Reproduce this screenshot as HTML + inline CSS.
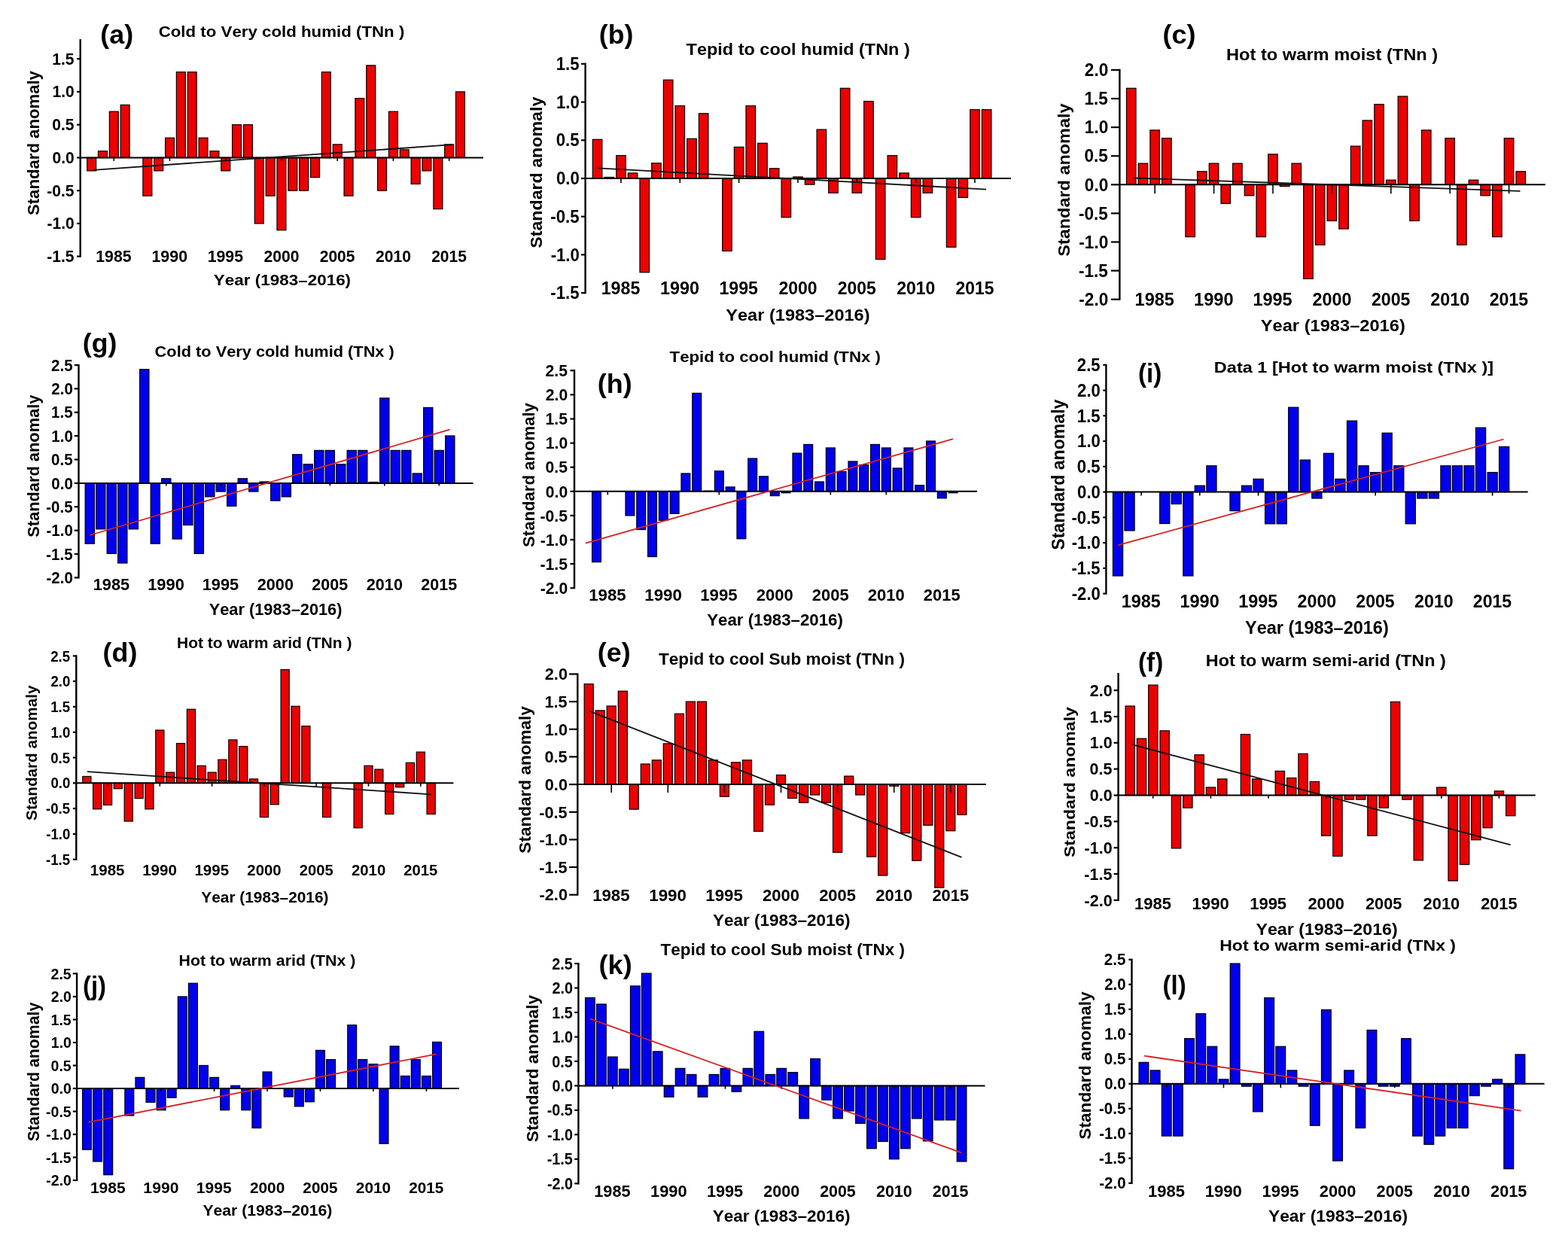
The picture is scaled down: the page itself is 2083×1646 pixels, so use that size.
<!DOCTYPE html>
<html><head><meta charset="utf-8"><title>Standard anomaly charts</title>
<style>html,body{margin:0;padding:0;background:#fff;width:2083px;height:1646px;overflow:hidden}svg{display:block}text{font-family:'Liberation Sans', Arial, Helvetica, sans-serif;font-weight:bold;font-kerning:none}</style></head>
<body>
<svg xmlns="http://www.w3.org/2000/svg" width="2083" height="1646" viewBox="0 0 2083 1646" font-family="'Liberation Sans', Arial, Helvetica, sans-serif" fill="#000">
<rect width="100%" height="100%" fill="#fff"/>
<g id="c_a">
<g fill="#ec0000" stroke="#1a0000" stroke-width="1.3"><rect x="115.7" y="209.4" width="11.9" height="17.5"/><rect x="130.5" y="200.7" width="11.9" height="8.8"/><rect x="145.4" y="148.2" width="11.9" height="61.2"/><rect x="160.2" y="139.4" width="11.9" height="70.0"/><rect x="189.9" y="209.4" width="11.9" height="50.8"/><rect x="204.7" y="209.4" width="11.9" height="17.5"/><rect x="219.6" y="183.2" width="11.9" height="26.2"/><rect x="234.4" y="95.7" width="11.9" height="113.8"/><rect x="249.3" y="95.7" width="11.9" height="113.8"/><rect x="264.1" y="183.2" width="11.9" height="26.2"/><rect x="279.0" y="200.7" width="11.9" height="8.8"/><rect x="293.8" y="209.4" width="11.9" height="17.5"/><rect x="308.6" y="165.7" width="11.9" height="43.8"/><rect x="323.5" y="165.7" width="11.9" height="43.8"/><rect x="338.3" y="209.4" width="11.9" height="87.5"/><rect x="353.2" y="209.4" width="11.9" height="50.8"/><rect x="368.0" y="209.4" width="11.9" height="96.3"/><rect x="382.9" y="209.4" width="11.9" height="43.8"/><rect x="397.7" y="209.4" width="11.9" height="43.8"/><rect x="412.6" y="209.4" width="11.9" height="26.2"/><rect x="427.4" y="95.7" width="11.9" height="113.8"/><rect x="442.3" y="191.9" width="11.9" height="17.5"/><rect x="457.1" y="209.4" width="11.9" height="50.8"/><rect x="471.9" y="130.7" width="11.9" height="78.8"/><rect x="486.8" y="86.9" width="11.9" height="122.5"/><rect x="501.6" y="209.4" width="11.9" height="43.8"/><rect x="516.5" y="148.2" width="11.9" height="61.2"/><rect x="531.3" y="198.9" width="11.9" height="10.5"/><rect x="546.2" y="209.4" width="11.9" height="35.0"/><rect x="561.0" y="209.4" width="11.9" height="17.5"/><rect x="575.9" y="209.4" width="11.9" height="68.2"/><rect x="590.7" y="191.9" width="11.9" height="17.5"/><rect x="605.5" y="121.9" width="11.9" height="87.5"/></g>
<g stroke="#000" fill="none"><path d="M106.7 52.0V341.8" stroke-width="2.4"/><path d="M102.1 78.2H106.7" stroke-width="2.2"/><path d="M102.1 121.9H106.7" stroke-width="2.2"/><path d="M102.1 165.7H106.7" stroke-width="2.2"/><path d="M102.1 209.4H106.7" stroke-width="2.2"/><path d="M102.1 253.2H106.7" stroke-width="2.2"/><path d="M102.1 296.9H106.7" stroke-width="2.2"/><path d="M102.1 340.6H106.7" stroke-width="2.2"/><path d="M106.7 209.4H642.0" stroke-width="2.0"/><path d="M151.3 209.4V213.9" stroke-width="1.6"/><path d="M225.5 209.4V213.9" stroke-width="1.6"/><path d="M299.7 209.4V213.9" stroke-width="1.6"/><path d="M374.0 209.4V213.9" stroke-width="1.6"/><path d="M448.2 209.4V213.9" stroke-width="1.6"/><path d="M522.4 209.4V213.9" stroke-width="1.6"/><path d="M596.6 209.4V213.9" stroke-width="1.6"/></g>
<path d="M124.3 225.8L600.5 192.2" stroke="#111" stroke-width="1.8" fill="none"/>
<g><text x="69.23" y="85.58" font-size="21.30" textLength="29.36" lengthAdjust="spacingAndGlyphs">1.5</text><text x="69.51" y="129.33" font-size="21.30" textLength="29.36" lengthAdjust="spacingAndGlyphs">1.0</text><text x="69.23" y="173.08" font-size="21.30" textLength="29.36" lengthAdjust="spacingAndGlyphs">0.5</text><text x="69.51" y="216.83" font-size="21.30" textLength="29.36" lengthAdjust="spacingAndGlyphs">0.0</text><text x="62.20" y="260.58" font-size="21.30" textLength="36.39" lengthAdjust="spacingAndGlyphs">-0.5</text><text x="62.48" y="304.33" font-size="21.30" textLength="36.39" lengthAdjust="spacingAndGlyphs">-1.0</text><text x="62.20" y="348.08" font-size="21.30" textLength="36.39" lengthAdjust="spacingAndGlyphs">-1.5</text></g>
<g><text x="127.22" y="348.30" font-size="21.30" textLength="47.38" lengthAdjust="spacingAndGlyphs">1985</text><text x="201.44" y="348.30" font-size="21.30" textLength="47.68" lengthAdjust="spacingAndGlyphs">1990</text><text x="275.67" y="348.30" font-size="21.30" textLength="47.38" lengthAdjust="spacingAndGlyphs">1995</text><text x="350.51" y="348.30" font-size="21.30" textLength="47.05" lengthAdjust="spacingAndGlyphs">2000</text><text x="424.74" y="348.30" font-size="21.30" textLength="46.76" lengthAdjust="spacingAndGlyphs">2005</text><text x="498.96" y="348.30" font-size="21.30" textLength="47.05" lengthAdjust="spacingAndGlyphs">2010</text><text x="573.19" y="348.30" font-size="21.30" textLength="46.76" lengthAdjust="spacingAndGlyphs">2015</text></g>
<text x="210.69" y="49.20" font-size="21.10" textLength="326.62" lengthAdjust="spacingAndGlyphs">Cold to Very cold humid (TNn )</text>
<text x="133.31" y="57.60" font-size="34.50" textLength="43.88" lengthAdjust="spacingAndGlyphs">(a)</text>
<text transform="translate(51.90 285.40) rotate(-90)" x="-0.64" y="0" font-size="22.03" textLength="191.96" lengthAdjust="spacingAndGlyphs">Standard anomaly</text>
<text x="283.82" y="379.30" font-size="21.00" textLength="182.30" lengthAdjust="spacingAndGlyphs">Year (1983–2016)</text>
</g>
<g id="c_b">
<g fill="#ec0000" stroke="#1a0000" stroke-width="1.3"><rect x="787.3" y="185.3" width="12.5" height="51.7"/><rect x="803.0" y="235.5" width="12.5" height="1.5"/><rect x="818.7" y="206.6" width="12.5" height="30.4"/><rect x="834.3" y="229.9" width="12.5" height="7.1"/><rect x="850.0" y="237.0" width="12.5" height="124.8"/><rect x="865.7" y="216.7" width="12.5" height="20.3"/><rect x="881.4" y="106.2" width="12.5" height="130.8"/><rect x="897.0" y="140.6" width="12.5" height="96.4"/><rect x="912.7" y="184.3" width="12.5" height="52.7"/><rect x="928.4" y="150.8" width="12.5" height="86.2"/><rect x="959.7" y="237.0" width="12.5" height="96.4"/><rect x="975.4" y="195.4" width="12.5" height="41.6"/><rect x="991.0" y="140.6" width="12.5" height="96.4"/><rect x="1006.7" y="190.3" width="12.5" height="46.7"/><rect x="1022.4" y="223.8" width="12.5" height="13.2"/><rect x="1038.1" y="237.0" width="12.5" height="51.7"/><rect x="1053.7" y="235.0" width="12.5" height="2.0"/><rect x="1069.4" y="237.0" width="12.5" height="8.1"/><rect x="1085.1" y="172.1" width="12.5" height="64.9"/><rect x="1100.7" y="237.0" width="12.5" height="19.3"/><rect x="1116.4" y="117.3" width="12.5" height="119.7"/><rect x="1132.1" y="237.0" width="12.5" height="19.3"/><rect x="1147.7" y="134.6" width="12.5" height="102.4"/><rect x="1163.4" y="237.0" width="12.5" height="107.5"/><rect x="1179.1" y="206.6" width="12.5" height="30.4"/><rect x="1194.8" y="229.9" width="12.5" height="7.1"/><rect x="1210.4" y="237.0" width="12.5" height="51.7"/><rect x="1226.1" y="237.0" width="12.5" height="19.3"/><rect x="1257.4" y="237.0" width="12.5" height="91.3"/><rect x="1273.1" y="237.0" width="12.5" height="25.4"/><rect x="1288.8" y="145.7" width="12.5" height="91.3"/><rect x="1304.4" y="145.7" width="12.5" height="91.3"/></g>
<g stroke="#000" fill="none"><path d="M777.6 83.8V390.2" stroke-width="2.4"/><path d="M772.0 84.8H777.6" stroke-width="2.2"/><path d="M772.0 135.6H777.6" stroke-width="2.2"/><path d="M772.0 186.3H777.6" stroke-width="2.2"/><path d="M772.0 237.0H777.6" stroke-width="2.2"/><path d="M772.0 287.7H777.6" stroke-width="2.2"/><path d="M772.0 338.4H777.6" stroke-width="2.2"/><path d="M772.0 389.1H777.6" stroke-width="2.2"/><path d="M777.6 237.0H1343.0" stroke-width="2.0"/><path d="M824.9 237.0V243.0" stroke-width="1.6"/><path d="M903.3 237.0V243.0" stroke-width="1.6"/><path d="M981.6 237.0V243.0" stroke-width="1.6"/><path d="M1060.0 237.0V243.0" stroke-width="1.6"/><path d="M1138.3 237.0V243.0" stroke-width="1.6"/><path d="M1216.7 237.0V243.0" stroke-width="1.6"/><path d="M1295.0 237.0V243.0" stroke-width="1.6"/></g>
<path d="M794.5 223.3L1310.0 251.6" stroke="#111" stroke-width="1.8" fill="none"/>
<g><text x="738.74" y="92.95" font-size="23.20" textLength="30.88" lengthAdjust="spacingAndGlyphs">1.5</text><text x="739.03" y="143.66" font-size="23.20" textLength="30.88" lengthAdjust="spacingAndGlyphs">1.0</text><text x="738.74" y="194.38" font-size="23.20" textLength="30.88" lengthAdjust="spacingAndGlyphs">0.5</text><text x="739.03" y="245.10" font-size="23.20" textLength="30.88" lengthAdjust="spacingAndGlyphs">0.0</text><text x="731.34" y="295.81" font-size="23.20" textLength="38.28" lengthAdjust="spacingAndGlyphs">-0.5</text><text x="731.63" y="346.53" font-size="23.20" textLength="38.28" lengthAdjust="spacingAndGlyphs">-1.0</text><text x="731.34" y="397.25" font-size="23.20" textLength="38.28" lengthAdjust="spacingAndGlyphs">-1.5</text></g>
<g><text x="798.73" y="391.40" font-size="23.20" textLength="51.61" lengthAdjust="spacingAndGlyphs">1985</text><text x="877.07" y="391.40" font-size="23.20" textLength="51.93" lengthAdjust="spacingAndGlyphs">1990</text><text x="955.43" y="391.40" font-size="23.20" textLength="51.61" lengthAdjust="spacingAndGlyphs">1995</text><text x="1034.44" y="391.40" font-size="23.20" textLength="51.25" lengthAdjust="spacingAndGlyphs">2000</text><text x="1112.79" y="391.40" font-size="23.20" textLength="50.93" lengthAdjust="spacingAndGlyphs">2005</text><text x="1191.14" y="391.40" font-size="23.20" textLength="51.25" lengthAdjust="spacingAndGlyphs">2010</text><text x="1269.49" y="391.40" font-size="23.20" textLength="50.93" lengthAdjust="spacingAndGlyphs">2015</text></g>
<text x="911.64" y="72.70" font-size="21.50" textLength="297.13" lengthAdjust="spacingAndGlyphs">Tepid to cool humid (TNn )</text>
<text x="795.82" y="58.10" font-size="35.30" textLength="45.55" lengthAdjust="spacingAndGlyphs">(b)</text>
<text transform="translate(720.30 329.10) rotate(-90)" x="-0.67" y="0" font-size="22.60" textLength="201.09" lengthAdjust="spacingAndGlyphs">Standard anomaly</text>
<text x="964.30" y="425.70" font-size="22.20" textLength="191.28" lengthAdjust="spacingAndGlyphs">Year (1983–2016)</text>
</g>
<g id="c_c">
<g fill="#ec0000" stroke="#1a0000" stroke-width="1.3"><rect x="1496.5" y="117.3" width="12.5" height="128.0"/><rect x="1512.2" y="217.1" width="12.5" height="28.2"/><rect x="1527.9" y="172.9" width="12.5" height="72.4"/><rect x="1543.6" y="183.6" width="12.5" height="61.7"/><rect x="1574.9" y="245.3" width="12.5" height="69.3"/><rect x="1590.6" y="227.8" width="12.5" height="17.5"/><rect x="1606.3" y="217.1" width="12.5" height="28.2"/><rect x="1622.0" y="245.3" width="12.5" height="25.1"/><rect x="1637.6" y="217.1" width="12.5" height="28.2"/><rect x="1653.3" y="245.3" width="12.5" height="14.5"/><rect x="1669.0" y="245.3" width="12.5" height="69.3"/><rect x="1684.7" y="204.9" width="12.5" height="40.4"/><rect x="1700.4" y="245.3" width="12.5" height="2.3"/><rect x="1716.0" y="217.1" width="12.5" height="28.2"/><rect x="1731.7" y="245.3" width="12.5" height="125.0"/><rect x="1747.4" y="245.3" width="12.5" height="80.0"/><rect x="1763.1" y="245.3" width="12.5" height="48.0"/><rect x="1778.8" y="245.3" width="12.5" height="58.7"/><rect x="1794.4" y="194.2" width="12.5" height="51.1"/><rect x="1810.1" y="160.0" width="12.5" height="85.3"/><rect x="1825.8" y="138.6" width="12.5" height="106.7"/><rect x="1841.5" y="239.2" width="12.5" height="6.1"/><rect x="1857.2" y="128.0" width="12.5" height="117.3"/><rect x="1872.8" y="245.3" width="12.5" height="48.0"/><rect x="1888.5" y="172.9" width="12.5" height="72.4"/><rect x="1919.9" y="183.6" width="12.5" height="61.7"/><rect x="1935.6" y="245.3" width="12.5" height="80.0"/><rect x="1951.2" y="239.2" width="12.5" height="6.1"/><rect x="1966.9" y="245.3" width="12.5" height="14.5"/><rect x="1982.6" y="245.3" width="12.5" height="69.3"/><rect x="1998.3" y="183.6" width="12.5" height="61.7"/><rect x="2014.0" y="227.8" width="12.5" height="17.5"/></g>
<g stroke="#000" fill="none"><path d="M1487.4 91.8V398.8" stroke-width="2.4"/><path d="M1475.9 92.9H1487.4" stroke-width="2.2"/><path d="M1475.9 131.0H1487.4" stroke-width="2.2"/><path d="M1475.9 169.1H1487.4" stroke-width="2.2"/><path d="M1475.9 207.2H1487.4" stroke-width="2.2"/><path d="M1475.9 245.3H1487.4" stroke-width="2.2"/><path d="M1475.9 283.4H1487.4" stroke-width="2.2"/><path d="M1475.9 321.5H1487.4" stroke-width="2.2"/><path d="M1475.9 359.6H1487.4" stroke-width="2.2"/><path d="M1475.9 397.7H1487.4" stroke-width="2.2"/><path d="M1487.4 245.3H2053.0" stroke-width="2.0"/><path d="M1534.2 245.3V257.3" stroke-width="1.6"/><path d="M1612.6 245.3V257.3" stroke-width="1.6"/><path d="M1691.0 245.3V257.3" stroke-width="1.6"/><path d="M1769.4 245.3V257.3" stroke-width="1.6"/><path d="M1847.8 245.3V257.3" stroke-width="1.6"/><path d="M1926.2 245.3V257.3" stroke-width="1.6"/><path d="M2004.6 245.3V257.3" stroke-width="1.6"/></g>
<path d="M1504.9 236.5L2019.5 253.8" stroke="#111" stroke-width="1.8" fill="none"/>
<g><text x="1440.84" y="101.10" font-size="23.50" textLength="31.39" lengthAdjust="spacingAndGlyphs">2.0</text><text x="1440.54" y="139.20" font-size="23.50" textLength="31.39" lengthAdjust="spacingAndGlyphs">1.5</text><text x="1440.84" y="177.30" font-size="23.50" textLength="31.39" lengthAdjust="spacingAndGlyphs">1.0</text><text x="1440.54" y="215.40" font-size="23.50" textLength="31.39" lengthAdjust="spacingAndGlyphs">0.5</text><text x="1440.84" y="253.50" font-size="23.50" textLength="31.39" lengthAdjust="spacingAndGlyphs">0.0</text><text x="1433.02" y="291.60" font-size="23.50" textLength="38.91" lengthAdjust="spacingAndGlyphs">-0.5</text><text x="1433.32" y="329.70" font-size="23.50" textLength="38.91" lengthAdjust="spacingAndGlyphs">-1.0</text><text x="1433.02" y="367.80" font-size="23.50" textLength="38.91" lengthAdjust="spacingAndGlyphs">-1.5</text><text x="1433.32" y="405.90" font-size="23.50" textLength="38.91" lengthAdjust="spacingAndGlyphs">-2.0</text></g>
<g><text x="1507.61" y="405.90" font-size="23.50" textLength="52.28" lengthAdjust="spacingAndGlyphs">1985</text><text x="1586.00" y="405.90" font-size="23.50" textLength="52.60" lengthAdjust="spacingAndGlyphs">1990</text><text x="1664.41" y="405.90" font-size="23.50" textLength="52.28" lengthAdjust="spacingAndGlyphs">1995</text><text x="1743.48" y="405.90" font-size="23.50" textLength="51.91" lengthAdjust="spacingAndGlyphs">2000</text><text x="1821.88" y="405.90" font-size="23.50" textLength="51.59" lengthAdjust="spacingAndGlyphs">2005</text><text x="1900.28" y="405.90" font-size="23.50" textLength="51.91" lengthAdjust="spacingAndGlyphs">2010</text><text x="1978.68" y="405.90" font-size="23.50" textLength="51.59" lengthAdjust="spacingAndGlyphs">2015</text></g>
<text x="1628.92" y="79.80" font-size="21.50" textLength="281.36" lengthAdjust="spacingAndGlyphs">Hot to warm moist (TNn )</text>
<text x="1544.50" y="58.10" font-size="35.70" textLength="44.09" lengthAdjust="spacingAndGlyphs">(c)</text>
<text transform="translate(1420.60 340.00) rotate(-90)" x="-0.68" y="0" font-size="22.88" textLength="203.20" lengthAdjust="spacingAndGlyphs">Standard anomaly</text>
<text x="1674.80" y="440.20" font-size="22.20" textLength="191.98" lengthAdjust="spacingAndGlyphs">Year (1983–2016)</text>
</g>
<g id="c_g">
<g fill="#0000ee" stroke="#000022" stroke-width="1.3"><rect x="113.2" y="641.9" width="12.2" height="80.3"/><rect x="127.7" y="641.9" width="12.2" height="60.9"/><rect x="142.2" y="641.9" width="12.2" height="93.5"/><rect x="156.7" y="641.9" width="12.2" height="106.1"/><rect x="171.2" y="641.9" width="12.2" height="60.9"/><rect x="185.7" y="490.7" width="12.2" height="151.2"/><rect x="200.2" y="641.9" width="12.2" height="80.3"/><rect x="214.7" y="635.8" width="12.2" height="6.1"/><rect x="229.2" y="641.9" width="12.2" height="74.1"/><rect x="243.7" y="641.9" width="12.2" height="55.6"/><rect x="258.2" y="641.9" width="12.2" height="93.5"/><rect x="272.7" y="641.9" width="12.2" height="18.0"/><rect x="287.2" y="641.9" width="12.2" height="11.1"/><rect x="301.7" y="641.9" width="12.2" height="30.4"/><rect x="316.2" y="635.8" width="12.2" height="6.1"/><rect x="330.7" y="641.9" width="12.2" height="11.1"/><rect x="345.2" y="640.0" width="12.2" height="1.9"/><rect x="359.7" y="641.9" width="12.2" height="23.2"/><rect x="374.2" y="641.9" width="12.2" height="18.0"/><rect x="388.7" y="603.8" width="12.2" height="38.1"/><rect x="403.2" y="616.8" width="12.2" height="25.1"/><rect x="417.7" y="598.4" width="12.2" height="43.5"/><rect x="432.2" y="598.4" width="12.2" height="43.5"/><rect x="446.7" y="616.8" width="12.2" height="25.1"/><rect x="461.2" y="598.4" width="12.2" height="43.5"/><rect x="475.7" y="598.4" width="12.2" height="43.5"/><rect x="490.2" y="640.6" width="12.2" height="1.3"/><rect x="504.7" y="528.9" width="12.2" height="113.0"/><rect x="519.2" y="598.4" width="12.2" height="43.5"/><rect x="533.7" y="598.4" width="12.2" height="43.5"/><rect x="548.2" y="629.0" width="12.2" height="12.9"/><rect x="562.7" y="541.5" width="12.2" height="100.4"/><rect x="577.2" y="598.4" width="12.2" height="43.5"/><rect x="591.7" y="579.0" width="12.2" height="62.9"/></g>
<g stroke="#000" fill="none"><path d="M104.5 483.9V768.5" stroke-width="2.4"/><path d="M98.8 485.0H104.5" stroke-width="2.2"/><path d="M98.8 516.4H104.5" stroke-width="2.2"/><path d="M98.8 547.8H104.5" stroke-width="2.2"/><path d="M98.8 579.1H104.5" stroke-width="2.2"/><path d="M98.8 610.5H104.5" stroke-width="2.2"/><path d="M98.8 641.9H104.5" stroke-width="2.2"/><path d="M98.8 673.3H104.5" stroke-width="2.2"/><path d="M98.8 704.7H104.5" stroke-width="2.2"/><path d="M98.8 736.0H104.5" stroke-width="2.2"/><path d="M98.8 767.4H104.5" stroke-width="2.2"/><path d="M104.5 641.9H628.5" stroke-width="2.0"/><path d="M148.3 641.9V645.4" stroke-width="1.6"/><path d="M220.8 641.9V645.4" stroke-width="1.6"/><path d="M293.3 641.9V645.4" stroke-width="1.6"/><path d="M365.8 641.9V645.4" stroke-width="1.6"/><path d="M438.3 641.9V645.4" stroke-width="1.6"/><path d="M510.8 641.9V645.4" stroke-width="1.6"/><path d="M583.3 641.9V645.4" stroke-width="1.6"/></g>
<path d="M119.2 711.0L597.5 570.6" stroke="#d62020" stroke-width="1.8" fill="none"/>
<g><text x="68.06" y="492.62" font-size="21.80" textLength="28.51" lengthAdjust="spacingAndGlyphs">2.5</text><text x="68.33" y="524.00" font-size="21.80" textLength="28.51" lengthAdjust="spacingAndGlyphs">2.0</text><text x="68.06" y="555.37" font-size="21.80" textLength="28.51" lengthAdjust="spacingAndGlyphs">1.5</text><text x="68.33" y="586.75" font-size="21.80" textLength="28.51" lengthAdjust="spacingAndGlyphs">1.0</text><text x="68.06" y="618.13" font-size="21.80" textLength="28.51" lengthAdjust="spacingAndGlyphs">0.5</text><text x="68.33" y="649.51" font-size="21.80" textLength="28.51" lengthAdjust="spacingAndGlyphs">0.0</text><text x="61.23" y="680.89" font-size="21.80" textLength="35.34" lengthAdjust="spacingAndGlyphs">-0.5</text><text x="61.50" y="712.26" font-size="21.80" textLength="35.34" lengthAdjust="spacingAndGlyphs">-1.0</text><text x="61.23" y="743.64" font-size="21.80" textLength="35.34" lengthAdjust="spacingAndGlyphs">-1.5</text><text x="61.50" y="775.02" font-size="21.80" textLength="35.34" lengthAdjust="spacingAndGlyphs">-2.0</text></g>
<g><text x="123.67" y="784.30" font-size="21.80" textLength="48.50" lengthAdjust="spacingAndGlyphs">1985</text><text x="196.16" y="784.30" font-size="21.80" textLength="48.80" lengthAdjust="spacingAndGlyphs">1990</text><text x="268.67" y="784.30" font-size="21.80" textLength="48.50" lengthAdjust="spacingAndGlyphs">1995</text><text x="341.79" y="784.30" font-size="21.80" textLength="48.15" lengthAdjust="spacingAndGlyphs">2000</text><text x="414.30" y="784.30" font-size="21.80" textLength="47.86" lengthAdjust="spacingAndGlyphs">2005</text><text x="486.79" y="784.30" font-size="21.80" textLength="48.15" lengthAdjust="spacingAndGlyphs">2010</text><text x="559.30" y="784.30" font-size="21.80" textLength="47.86" lengthAdjust="spacingAndGlyphs">2015</text></g>
<text x="205.61" y="473.70" font-size="20.50" textLength="318.18" lengthAdjust="spacingAndGlyphs">Cold to Very cold humid (TNx )</text>
<text x="109.82" y="468.30" font-size="35.30" textLength="45.55" lengthAdjust="spacingAndGlyphs">(g)</text>
<text transform="translate(51.90 713.20) rotate(-90)" x="-0.63" y="0" font-size="22.03" textLength="189.25" lengthAdjust="spacingAndGlyphs">Standard anomaly</text>
<text x="277.73" y="816.50" font-size="21.50" textLength="176.76" lengthAdjust="spacingAndGlyphs">Year (1983–2016)</text>
</g>
<g id="c_h">
<g fill="#0000ee" stroke="#000022" stroke-width="1.3"><rect x="786.6" y="652.8" width="11.8" height="93.8"/><rect x="831.0" y="652.8" width="11.8" height="32.1"/><rect x="845.8" y="652.8" width="11.8" height="50.7"/><rect x="860.6" y="652.8" width="11.8" height="86.7"/><rect x="875.4" y="652.8" width="11.8" height="38.5"/><rect x="890.2" y="652.8" width="11.8" height="29.5"/><rect x="905.0" y="629.0" width="11.8" height="23.8"/><rect x="919.8" y="522.4" width="11.8" height="130.4"/><rect x="934.6" y="652.2" width="11.8" height="0.6"/><rect x="949.4" y="625.8" width="11.8" height="27.0"/><rect x="964.2" y="647.0" width="11.8" height="5.8"/><rect x="979.0" y="652.8" width="11.8" height="62.9"/><rect x="993.8" y="609.1" width="11.8" height="43.7"/><rect x="1008.6" y="632.9" width="11.8" height="19.9"/><rect x="1023.4" y="652.8" width="11.8" height="5.8"/><rect x="1038.2" y="652.8" width="11.8" height="1.9"/><rect x="1053.0" y="602.1" width="11.8" height="50.7"/><rect x="1067.8" y="590.5" width="11.8" height="62.3"/><rect x="1082.6" y="640.0" width="11.8" height="12.8"/><rect x="1097.4" y="595.0" width="11.8" height="57.8"/><rect x="1112.2" y="626.5" width="11.8" height="26.3"/><rect x="1127.0" y="613.0" width="11.8" height="39.8"/><rect x="1141.8" y="617.5" width="11.8" height="35.3"/><rect x="1156.6" y="590.5" width="11.8" height="62.3"/><rect x="1171.4" y="595.0" width="11.8" height="57.8"/><rect x="1186.2" y="622.0" width="11.8" height="30.8"/><rect x="1201.0" y="595.0" width="11.8" height="57.8"/><rect x="1215.8" y="644.7" width="11.8" height="8.1"/><rect x="1230.6" y="586.0" width="11.8" height="66.8"/><rect x="1245.4" y="652.8" width="11.8" height="9.0"/><rect x="1260.2" y="652.8" width="11.8" height="1.9"/></g>
<g stroke="#000" fill="none"><path d="M763.0 491.1V782.3" stroke-width="2.4"/><path d="M757.5 492.2H763.0" stroke-width="2.2"/><path d="M757.5 524.4H763.0" stroke-width="2.2"/><path d="M757.5 556.5H763.0" stroke-width="2.2"/><path d="M757.5 588.6H763.0" stroke-width="2.2"/><path d="M757.5 620.7H763.0" stroke-width="2.2"/><path d="M757.5 652.8H763.0" stroke-width="2.2"/><path d="M757.5 684.9H763.0" stroke-width="2.2"/><path d="M757.5 717.0H763.0" stroke-width="2.2"/><path d="M757.5 749.1H763.0" stroke-width="2.2"/><path d="M757.5 781.2H763.0" stroke-width="2.2"/><path d="M763.0 652.8H1298.0" stroke-width="2.0"/><path d="M807.3 652.8V657.4" stroke-width="1.6"/><path d="M881.3 652.8V657.4" stroke-width="1.6"/><path d="M955.3 652.8V657.4" stroke-width="1.6"/><path d="M1029.3 652.8V657.4" stroke-width="1.6"/><path d="M1103.3 652.8V657.4" stroke-width="1.6"/><path d="M1177.3 652.8V657.4" stroke-width="1.6"/><path d="M1251.3 652.8V657.4" stroke-width="1.6"/></g>
<path d="M777.9 721.6L1266.0 583.2" stroke="#d62020" stroke-width="1.8" fill="none"/>
<g><text x="724.55" y="499.99" font-size="22.20" textLength="29.44" lengthAdjust="spacingAndGlyphs">2.5</text><text x="724.83" y="532.10" font-size="22.20" textLength="29.44" lengthAdjust="spacingAndGlyphs">2.0</text><text x="724.55" y="564.21" font-size="22.20" textLength="29.44" lengthAdjust="spacingAndGlyphs">1.5</text><text x="724.83" y="596.33" font-size="22.20" textLength="29.44" lengthAdjust="spacingAndGlyphs">1.0</text><text x="724.55" y="628.44" font-size="22.20" textLength="29.44" lengthAdjust="spacingAndGlyphs">0.5</text><text x="724.83" y="660.55" font-size="22.20" textLength="29.44" lengthAdjust="spacingAndGlyphs">0.0</text><text x="717.49" y="692.66" font-size="22.20" textLength="36.50" lengthAdjust="spacingAndGlyphs">-0.5</text><text x="717.77" y="724.77" font-size="22.20" textLength="36.50" lengthAdjust="spacingAndGlyphs">-1.0</text><text x="717.49" y="756.88" font-size="22.20" textLength="36.50" lengthAdjust="spacingAndGlyphs">-1.5</text><text x="717.77" y="788.99" font-size="22.20" textLength="36.50" lengthAdjust="spacingAndGlyphs">-2.0</text></g>
<g><text x="782.22" y="798.30" font-size="22.20" textLength="49.39" lengthAdjust="spacingAndGlyphs">1985</text><text x="856.21" y="798.30" font-size="22.20" textLength="49.69" lengthAdjust="spacingAndGlyphs">1990</text><text x="930.22" y="798.30" font-size="22.20" textLength="49.39" lengthAdjust="spacingAndGlyphs">1995</text><text x="1004.85" y="798.30" font-size="22.20" textLength="49.04" lengthAdjust="spacingAndGlyphs">2000</text><text x="1078.86" y="798.30" font-size="22.20" textLength="48.74" lengthAdjust="spacingAndGlyphs">2005</text><text x="1152.85" y="798.30" font-size="22.20" textLength="49.04" lengthAdjust="spacingAndGlyphs">2010</text><text x="1226.86" y="798.30" font-size="22.20" textLength="48.74" lengthAdjust="spacingAndGlyphs">2015</text></g>
<text x="889.55" y="481.00" font-size="21.10" textLength="280.36" lengthAdjust="spacingAndGlyphs">Tepid to cool humid (TNx )</text>
<text x="793.81" y="522.10" font-size="35.20" textLength="45.88" lengthAdjust="spacingAndGlyphs">(h)</text>
<text transform="translate(710.20 726.30) rotate(-90)" x="-0.64" y="0" font-size="22.88" textLength="191.86" lengthAdjust="spacingAndGlyphs">Standard anomaly</text>
<text x="939.22" y="831.00" font-size="22.20" textLength="180.59" lengthAdjust="spacingAndGlyphs">Year (1983–2016)</text>
</g>
<g id="c_i">
<g fill="#0000ee" stroke="#000022" stroke-width="1.3"><rect x="1478.5" y="653.6" width="13.1" height="111.4"/><rect x="1494.0" y="653.6" width="13.1" height="51.3"/><rect x="1540.7" y="653.6" width="13.1" height="41.9"/><rect x="1556.2" y="653.6" width="13.1" height="15.9"/><rect x="1571.8" y="653.6" width="13.1" height="111.4"/><rect x="1587.3" y="645.2" width="13.1" height="8.4"/><rect x="1602.9" y="618.8" width="13.1" height="34.8"/><rect x="1634.0" y="653.6" width="13.1" height="25.0"/><rect x="1649.5" y="645.2" width="13.1" height="8.4"/><rect x="1665.1" y="636.4" width="13.1" height="17.2"/><rect x="1680.6" y="653.6" width="13.1" height="42.2"/><rect x="1696.2" y="653.6" width="13.1" height="42.2"/><rect x="1711.7" y="541.2" width="13.1" height="112.4"/><rect x="1727.3" y="611.1" width="13.1" height="42.5"/><rect x="1742.8" y="653.6" width="13.1" height="8.4"/><rect x="1758.4" y="602.3" width="13.1" height="51.3"/><rect x="1773.9" y="636.4" width="13.1" height="17.2"/><rect x="1789.5" y="559.1" width="13.1" height="94.5"/><rect x="1805.0" y="618.8" width="13.1" height="34.8"/><rect x="1820.6" y="627.6" width="13.1" height="26.0"/><rect x="1836.1" y="575.3" width="13.1" height="78.3"/><rect x="1851.7" y="618.8" width="13.1" height="34.8"/><rect x="1867.2" y="653.6" width="13.1" height="42.2"/><rect x="1882.8" y="653.6" width="13.1" height="8.4"/><rect x="1898.3" y="653.6" width="13.1" height="8.4"/><rect x="1913.9" y="618.8" width="13.1" height="34.8"/><rect x="1929.4" y="618.8" width="13.1" height="34.8"/><rect x="1945.0" y="618.8" width="13.1" height="34.8"/><rect x="1960.5" y="568.2" width="13.1" height="85.4"/><rect x="1976.1" y="627.6" width="13.1" height="26.0"/><rect x="1991.6" y="593.5" width="13.1" height="60.1"/></g>
<g stroke="#000" fill="none"><path d="M1469.4 483.7V789.7" stroke-width="2.4"/><path d="M1465.3 484.8H1469.4" stroke-width="2.2"/><path d="M1465.3 518.6H1469.4" stroke-width="2.2"/><path d="M1465.3 552.3H1469.4" stroke-width="2.2"/><path d="M1465.3 586.1H1469.4" stroke-width="2.2"/><path d="M1465.3 619.8H1469.4" stroke-width="2.2"/><path d="M1465.3 653.6H1469.4" stroke-width="2.2"/><path d="M1465.3 687.4H1469.4" stroke-width="2.2"/><path d="M1465.3 721.1H1469.4" stroke-width="2.2"/><path d="M1465.3 754.9H1469.4" stroke-width="2.2"/><path d="M1465.3 788.6H1469.4" stroke-width="2.2"/><path d="M1469.4 653.6H2029.7" stroke-width="2.0"/><path d="M1516.1 653.6V658.6" stroke-width="1.6"/><path d="M1593.8 653.6V658.6" stroke-width="1.6"/><path d="M1671.6 653.6V658.6" stroke-width="1.6"/><path d="M1749.3 653.6V658.6" stroke-width="1.6"/><path d="M1827.1 653.6V658.6" stroke-width="1.6"/><path d="M1904.8 653.6V658.6" stroke-width="1.6"/><path d="M1982.6 653.6V658.6" stroke-width="1.6"/></g>
<path d="M1485.0 724.3L1997.6 583.5" stroke="#d62020" stroke-width="1.8" fill="none"/>
<g><text x="1430.82" y="492.99" font-size="23.40" textLength="30.80" lengthAdjust="spacingAndGlyphs">2.5</text><text x="1431.11" y="526.74" font-size="23.40" textLength="30.80" lengthAdjust="spacingAndGlyphs">2.0</text><text x="1430.82" y="560.50" font-size="23.40" textLength="30.80" lengthAdjust="spacingAndGlyphs">1.5</text><text x="1431.11" y="594.26" font-size="23.40" textLength="30.80" lengthAdjust="spacingAndGlyphs">1.0</text><text x="1430.82" y="628.01" font-size="23.40" textLength="30.80" lengthAdjust="spacingAndGlyphs">0.5</text><text x="1431.11" y="661.77" font-size="23.40" textLength="30.80" lengthAdjust="spacingAndGlyphs">0.0</text><text x="1423.44" y="695.52" font-size="23.40" textLength="38.17" lengthAdjust="spacingAndGlyphs">-0.5</text><text x="1423.73" y="729.28" font-size="23.40" textLength="38.17" lengthAdjust="spacingAndGlyphs">-1.0</text><text x="1423.44" y="763.03" font-size="23.40" textLength="38.17" lengthAdjust="spacingAndGlyphs">-1.5</text><text x="1423.73" y="796.79" font-size="23.40" textLength="38.17" lengthAdjust="spacingAndGlyphs">-2.0</text></g>
<g><text x="1489.66" y="807.30" font-size="23.40" textLength="52.06" lengthAdjust="spacingAndGlyphs">1985</text><text x="1567.40" y="807.30" font-size="23.40" textLength="52.38" lengthAdjust="spacingAndGlyphs">1990</text><text x="1645.16" y="807.30" font-size="23.40" textLength="52.06" lengthAdjust="spacingAndGlyphs">1995</text><text x="1723.58" y="807.30" font-size="23.40" textLength="51.69" lengthAdjust="spacingAndGlyphs">2000</text><text x="1801.33" y="807.30" font-size="23.40" textLength="51.37" lengthAdjust="spacingAndGlyphs">2005</text><text x="1879.08" y="807.30" font-size="23.40" textLength="51.69" lengthAdjust="spacingAndGlyphs">2010</text><text x="1956.83" y="807.30" font-size="23.40" textLength="51.37" lengthAdjust="spacingAndGlyphs">2015</text></g>
<text x="1612.83" y="495.40" font-size="20.90" textLength="371.30" lengthAdjust="spacingAndGlyphs">Data 1 [Hot to warm moist (TNx )]</text>
<text x="1512.04" y="508.00" font-size="35.60" textLength="31.42" lengthAdjust="spacingAndGlyphs">(i)</text>
<text transform="translate(1414.30 730.10) rotate(-90)" x="-0.67" y="0" font-size="24.01" textLength="200.19" lengthAdjust="spacingAndGlyphs">Standard anomaly</text>
<text x="1654.00" y="841.60" font-size="24.00" textLength="190.77" lengthAdjust="spacingAndGlyphs">Year (1983–2016)</text>
</g>
<g id="c_d">
<g fill="#ec0000" stroke="#1a0000" stroke-width="1.3"><rect x="109.8" y="1031.5" width="11.1" height="8.8"/><rect x="123.6" y="1040.3" width="11.1" height="34.5"/><rect x="137.5" y="1040.3" width="11.1" height="29.1"/><rect x="151.3" y="1040.3" width="11.1" height="7.4"/><rect x="165.2" y="1040.3" width="11.1" height="50.7"/><rect x="179.1" y="1040.3" width="11.1" height="20.3"/><rect x="192.9" y="1040.3" width="11.1" height="34.5"/><rect x="206.8" y="970.0" width="11.1" height="70.3"/><rect x="220.6" y="1026.1" width="11.1" height="14.2"/><rect x="234.5" y="987.6" width="11.1" height="52.7"/><rect x="248.4" y="942.3" width="11.1" height="98.0"/><rect x="262.2" y="1017.3" width="11.1" height="23.0"/><rect x="276.1" y="1026.1" width="11.1" height="14.2"/><rect x="289.9" y="1009.2" width="11.1" height="31.1"/><rect x="303.8" y="982.9" width="11.1" height="57.4"/><rect x="317.7" y="991.6" width="11.1" height="48.7"/><rect x="331.5" y="1034.9" width="11.1" height="5.4"/><rect x="345.4" y="1040.3" width="11.1" height="45.3"/><rect x="359.2" y="1040.3" width="11.1" height="28.4"/><rect x="373.1" y="889.6" width="11.1" height="150.7"/><rect x="387.0" y="938.3" width="11.1" height="102.0"/><rect x="400.8" y="964.6" width="11.1" height="75.7"/><rect x="428.5" y="1040.3" width="11.1" height="45.3"/><rect x="470.1" y="1040.3" width="11.1" height="59.5"/><rect x="484.0" y="1017.3" width="11.1" height="23.0"/><rect x="497.8" y="1022.1" width="11.1" height="18.2"/><rect x="511.7" y="1040.3" width="11.1" height="41.2"/><rect x="525.6" y="1040.3" width="11.1" height="5.4"/><rect x="539.4" y="1013.3" width="11.1" height="27.0"/><rect x="553.3" y="999.1" width="11.1" height="41.2"/><rect x="567.1" y="1040.3" width="11.1" height="41.2"/></g>
<g stroke="#000" fill="none"><path d="M101.3 870.3V1142.8" stroke-width="2.4"/><path d="M96.9 871.4H101.3" stroke-width="2.2"/><path d="M96.9 905.1H101.3" stroke-width="2.2"/><path d="M96.9 938.9H101.3" stroke-width="2.2"/><path d="M96.9 972.7H101.3" stroke-width="2.2"/><path d="M96.9 1006.5H101.3" stroke-width="2.2"/><path d="M96.9 1040.3H101.3" stroke-width="2.2"/><path d="M96.9 1074.1H101.3" stroke-width="2.2"/><path d="M96.9 1107.9H101.3" stroke-width="2.2"/><path d="M96.9 1141.7H101.3" stroke-width="2.2"/><path d="M101.3 1040.3H602.4" stroke-width="2.0"/><path d="M143.0 1040.3V1044.7" stroke-width="1.6"/><path d="M212.3 1040.3V1044.7" stroke-width="1.6"/><path d="M281.6 1040.3V1044.7" stroke-width="1.6"/><path d="M350.9 1040.3V1044.7" stroke-width="1.6"/><path d="M420.2 1040.3V1044.7" stroke-width="1.6"/><path d="M489.5 1040.3V1044.7" stroke-width="1.6"/><path d="M558.8 1040.3V1044.7" stroke-width="1.6"/></g>
<path d="M115.9 1025.2L573.0 1055.3" stroke="#111" stroke-width="1.8" fill="none"/>
<g><text x="67.15" y="878.52" font-size="20.50" textLength="25.97" lengthAdjust="spacingAndGlyphs">2.5</text><text x="67.39" y="912.30" font-size="20.50" textLength="25.97" lengthAdjust="spacingAndGlyphs">2.0</text><text x="67.15" y="946.09" font-size="20.50" textLength="25.97" lengthAdjust="spacingAndGlyphs">1.5</text><text x="67.39" y="979.88" font-size="20.50" textLength="25.97" lengthAdjust="spacingAndGlyphs">1.0</text><text x="67.15" y="1013.67" font-size="20.50" textLength="25.97" lengthAdjust="spacingAndGlyphs">0.5</text><text x="67.39" y="1047.45" font-size="20.50" textLength="25.97" lengthAdjust="spacingAndGlyphs">0.0</text><text x="60.92" y="1081.24" font-size="20.50" textLength="32.20" lengthAdjust="spacingAndGlyphs">-0.5</text><text x="61.17" y="1115.03" font-size="20.50" textLength="32.20" lengthAdjust="spacingAndGlyphs">-1.0</text><text x="60.92" y="1148.82" font-size="20.50" textLength="32.20" lengthAdjust="spacingAndGlyphs">-1.5</text></g>
<g><text x="119.86" y="1162.70" font-size="20.50" textLength="45.60" lengthAdjust="spacingAndGlyphs">1985</text><text x="189.15" y="1162.70" font-size="20.50" textLength="45.89" lengthAdjust="spacingAndGlyphs">1990</text><text x="258.46" y="1162.70" font-size="20.50" textLength="45.60" lengthAdjust="spacingAndGlyphs">1995</text><text x="328.34" y="1162.70" font-size="20.50" textLength="45.28" lengthAdjust="spacingAndGlyphs">2000</text><text x="397.65" y="1162.70" font-size="20.50" textLength="45.01" lengthAdjust="spacingAndGlyphs">2005</text><text x="466.94" y="1162.70" font-size="20.50" textLength="45.28" lengthAdjust="spacingAndGlyphs">2010</text><text x="536.25" y="1162.70" font-size="20.50" textLength="45.01" lengthAdjust="spacingAndGlyphs">2015</text></g>
<text x="234.99" y="860.60" font-size="20.40" textLength="232.45" lengthAdjust="spacingAndGlyphs">Hot to warm arid (TNn )</text>
<text x="136.61" y="879.00" font-size="35.70" textLength="45.77" lengthAdjust="spacingAndGlyphs">(d)</text>
<text transform="translate(49.30 1089.30) rotate(-90)" x="-0.60" y="0" font-size="20.06" textLength="179.31" lengthAdjust="spacingAndGlyphs">Standard anomaly</text>
<text x="267.34" y="1199.10" font-size="20.60" textLength="169.09" lengthAdjust="spacingAndGlyphs">Year (1983–2016)</text>
</g>
<g id="c_e">
<g fill="#ec0000" stroke="#1a0000" stroke-width="1.3"><rect x="776.2" y="908.7" width="12.0" height="133.4"/><rect x="791.2" y="943.9" width="12.0" height="98.2"/><rect x="806.2" y="938.0" width="12.0" height="104.1"/><rect x="821.3" y="918.2" width="12.0" height="123.9"/><rect x="836.3" y="1042.1" width="12.0" height="33.0"/><rect x="851.3" y="1015.0" width="12.0" height="27.1"/><rect x="866.3" y="1009.8" width="12.0" height="32.3"/><rect x="881.3" y="987.9" width="12.0" height="54.2"/><rect x="896.4" y="948.3" width="12.0" height="93.8"/><rect x="911.4" y="932.1" width="12.0" height="110.0"/><rect x="926.4" y="932.1" width="12.0" height="110.0"/><rect x="941.4" y="1009.8" width="12.0" height="32.3"/><rect x="956.4" y="1042.1" width="12.0" height="16.1"/><rect x="971.5" y="1012.8" width="12.0" height="29.3"/><rect x="986.5" y="1009.8" width="12.0" height="32.3"/><rect x="1001.5" y="1042.1" width="12.0" height="62.3"/><rect x="1016.5" y="1042.1" width="12.0" height="27.1"/><rect x="1031.5" y="1029.6" width="12.0" height="12.5"/><rect x="1046.6" y="1042.1" width="12.0" height="18.3"/><rect x="1061.6" y="1042.1" width="12.0" height="24.2"/><rect x="1076.6" y="1042.1" width="12.0" height="13.9"/><rect x="1091.6" y="1042.1" width="12.0" height="24.2"/><rect x="1106.6" y="1042.1" width="12.0" height="90.2"/><rect x="1121.7" y="1031.1" width="12.0" height="11.0"/><rect x="1136.7" y="1042.1" width="12.0" height="13.9"/><rect x="1151.7" y="1042.1" width="12.0" height="96.0"/><rect x="1166.7" y="1042.1" width="12.0" height="120.9"/><rect x="1181.7" y="1042.1" width="12.0" height="2.2"/><rect x="1196.8" y="1042.1" width="12.0" height="64.5"/><rect x="1211.8" y="1042.1" width="12.0" height="101.2"/><rect x="1226.8" y="1042.1" width="12.0" height="54.2"/><rect x="1241.8" y="1042.1" width="12.0" height="137.1"/><rect x="1256.8" y="1042.1" width="12.0" height="61.6"/><rect x="1271.9" y="1042.1" width="12.0" height="40.3"/></g>
<g stroke="#000" fill="none"><path d="M767.3 894.4V1189.8" stroke-width="2.4"/><path d="M756.1 895.5H767.3" stroke-width="2.2"/><path d="M756.1 932.1H767.3" stroke-width="2.2"/><path d="M756.1 968.8H767.3" stroke-width="2.2"/><path d="M756.1 1005.4H767.3" stroke-width="2.2"/><path d="M756.1 1042.1H767.3" stroke-width="2.2"/><path d="M756.1 1078.8H767.3" stroke-width="2.2"/><path d="M756.1 1115.4H767.3" stroke-width="2.2"/><path d="M756.1 1152.0H767.3" stroke-width="2.2"/><path d="M756.1 1188.7H767.3" stroke-width="2.2"/><path d="M767.3 1042.1H1310.0" stroke-width="2.0"/><path d="M812.2 1042.1V1053.1" stroke-width="1.6"/><path d="M887.3 1042.1V1053.1" stroke-width="1.6"/><path d="M962.4 1042.1V1053.1" stroke-width="1.6"/><path d="M1037.5 1042.1V1053.1" stroke-width="1.6"/><path d="M1112.6 1042.1V1053.1" stroke-width="1.6"/><path d="M1187.7 1042.1V1053.1" stroke-width="1.6"/><path d="M1262.8 1042.1V1053.1" stroke-width="1.6"/></g>
<path d="M782.8 944.7L1277.5 1138.9" stroke="#111" stroke-width="1.8" fill="none"/>
<g><text x="723.79" y="903.25" font-size="22.20" textLength="30.20" lengthAdjust="spacingAndGlyphs">2.0</text><text x="723.50" y="939.90" font-size="22.20" textLength="30.20" lengthAdjust="spacingAndGlyphs">1.5</text><text x="723.79" y="976.55" font-size="22.20" textLength="30.20" lengthAdjust="spacingAndGlyphs">1.0</text><text x="723.50" y="1013.20" font-size="22.20" textLength="30.20" lengthAdjust="spacingAndGlyphs">0.5</text><text x="723.79" y="1049.85" font-size="22.20" textLength="30.20" lengthAdjust="spacingAndGlyphs">0.0</text><text x="716.26" y="1086.50" font-size="22.20" textLength="37.44" lengthAdjust="spacingAndGlyphs">-0.5</text><text x="716.55" y="1123.15" font-size="22.20" textLength="37.44" lengthAdjust="spacingAndGlyphs">-1.0</text><text x="716.26" y="1159.80" font-size="22.20" textLength="37.44" lengthAdjust="spacingAndGlyphs">-1.5</text><text x="716.55" y="1196.45" font-size="22.20" textLength="37.44" lengthAdjust="spacingAndGlyphs">-2.0</text></g>
<g><text x="787.16" y="1196.60" font-size="22.20" textLength="49.39" lengthAdjust="spacingAndGlyphs">1985</text><text x="862.25" y="1196.60" font-size="22.20" textLength="49.69" lengthAdjust="spacingAndGlyphs">1990</text><text x="937.36" y="1196.60" font-size="22.20" textLength="49.39" lengthAdjust="spacingAndGlyphs">1995</text><text x="1013.09" y="1196.60" font-size="22.20" textLength="49.04" lengthAdjust="spacingAndGlyphs">2000</text><text x="1088.20" y="1196.60" font-size="22.20" textLength="48.74" lengthAdjust="spacingAndGlyphs">2005</text><text x="1163.29" y="1196.60" font-size="22.20" textLength="49.04" lengthAdjust="spacingAndGlyphs">2010</text><text x="1238.40" y="1196.60" font-size="22.20" textLength="48.74" lengthAdjust="spacingAndGlyphs">2015</text></g>
<text x="875.05" y="883.20" font-size="21.90" textLength="326.88" lengthAdjust="spacingAndGlyphs">Tepid to cool Sub moist (TNn )</text>
<text x="793.81" y="879.20" font-size="35.40" textLength="43.88" lengthAdjust="spacingAndGlyphs">(e)</text>
<text transform="translate(705.20 1133.00) rotate(-90)" x="-0.65" y="0" font-size="22.88" textLength="195.57" lengthAdjust="spacingAndGlyphs">Standard anomaly</text>
<text x="946.92" y="1229.60" font-size="22.00" textLength="182.71" lengthAdjust="spacingAndGlyphs">Year (1983–2016)</text>
</g>
<g id="c_f">
<g fill="#ec0000" stroke="#1a0000" stroke-width="1.3"><rect x="1495.1" y="938.0" width="12.3" height="118.5"/><rect x="1510.4" y="981.2" width="12.3" height="75.3"/><rect x="1525.7" y="910.1" width="12.3" height="146.4"/><rect x="1541.0" y="970.8" width="12.3" height="85.7"/><rect x="1556.4" y="1056.5" width="12.3" height="70.4"/><rect x="1571.7" y="1056.5" width="12.3" height="16.7"/><rect x="1587.0" y="1002.8" width="12.3" height="53.7"/><rect x="1602.3" y="1046.0" width="12.3" height="10.5"/><rect x="1617.6" y="1034.9" width="12.3" height="21.6"/><rect x="1648.3" y="975.6" width="12.3" height="80.9"/><rect x="1663.6" y="1034.9" width="12.3" height="21.6"/><rect x="1694.2" y="1024.4" width="12.3" height="32.1"/><rect x="1709.6" y="1033.5" width="12.3" height="23.0"/><rect x="1724.9" y="1001.4" width="12.3" height="55.1"/><rect x="1740.2" y="1038.4" width="12.3" height="18.1"/><rect x="1755.5" y="1056.5" width="12.3" height="53.7"/><rect x="1770.8" y="1056.5" width="12.3" height="80.9"/><rect x="1786.2" y="1056.5" width="12.3" height="5.6"/><rect x="1801.5" y="1056.5" width="12.3" height="5.6"/><rect x="1816.8" y="1056.5" width="12.3" height="53.7"/><rect x="1832.1" y="1056.5" width="12.3" height="16.7"/><rect x="1847.4" y="932.4" width="12.3" height="124.1"/><rect x="1862.8" y="1056.5" width="12.3" height="5.6"/><rect x="1878.1" y="1056.5" width="12.3" height="86.4"/><rect x="1908.7" y="1046.0" width="12.3" height="10.5"/><rect x="1924.0" y="1056.5" width="12.3" height="113.6"/><rect x="1939.4" y="1056.5" width="12.3" height="92.0"/><rect x="1954.7" y="1056.5" width="12.3" height="59.2"/><rect x="1970.0" y="1056.5" width="12.3" height="43.2"/><rect x="1985.3" y="1050.9" width="12.3" height="5.6"/><rect x="2000.6" y="1056.5" width="12.3" height="27.2"/></g>
<g stroke="#000" fill="none"><path d="M1485.6 893.9V1197.0" stroke-width="2.4"/><path d="M1479.6 917.1H1485.6" stroke-width="2.2"/><path d="M1479.6 952.0H1485.6" stroke-width="2.2"/><path d="M1479.6 986.8H1485.6" stroke-width="2.2"/><path d="M1479.6 1021.6H1485.6" stroke-width="2.2"/><path d="M1479.6 1056.5H1485.6" stroke-width="2.2"/><path d="M1479.6 1091.3H1485.6" stroke-width="2.2"/><path d="M1479.6 1126.2H1485.6" stroke-width="2.2"/><path d="M1479.6 1161.0H1485.6" stroke-width="2.2"/><path d="M1479.6 1195.9H1485.6" stroke-width="2.2"/><path d="M1485.6 1056.5H2039.8" stroke-width="2.0"/><path d="M1531.8 1056.5V1060.8" stroke-width="1.6"/><path d="M1608.4 1056.5V1060.8" stroke-width="1.6"/><path d="M1685.0 1056.5V1060.8" stroke-width="1.6"/><path d="M1761.6 1056.5V1060.8" stroke-width="1.6"/><path d="M1838.2 1056.5V1060.8" stroke-width="1.6"/><path d="M1914.8 1056.5V1060.8" stroke-width="1.6"/><path d="M1991.4 1056.5V1060.8" stroke-width="1.6"/></g>
<path d="M1503.2 989.0L2006.7 1122.4" stroke="#111" stroke-width="1.8" fill="none"/>
<g><text x="1447.73" y="924.78" font-size="22.00" textLength="29.95" lengthAdjust="spacingAndGlyphs">2.0</text><text x="1447.45" y="959.63" font-size="22.00" textLength="29.95" lengthAdjust="spacingAndGlyphs">1.5</text><text x="1447.73" y="994.48" font-size="22.00" textLength="29.95" lengthAdjust="spacingAndGlyphs">1.0</text><text x="1447.45" y="1029.33" font-size="22.00" textLength="29.95" lengthAdjust="spacingAndGlyphs">0.5</text><text x="1447.73" y="1064.18" font-size="22.00" textLength="29.95" lengthAdjust="spacingAndGlyphs">0.0</text><text x="1440.27" y="1099.03" font-size="22.00" textLength="37.13" lengthAdjust="spacingAndGlyphs">-0.5</text><text x="1440.56" y="1133.88" font-size="22.00" textLength="37.13" lengthAdjust="spacingAndGlyphs">-1.0</text><text x="1440.27" y="1168.73" font-size="22.00" textLength="37.13" lengthAdjust="spacingAndGlyphs">-1.5</text><text x="1440.56" y="1203.58" font-size="22.00" textLength="37.13" lengthAdjust="spacingAndGlyphs">-2.0</text></g>
<g><text x="1506.98" y="1207.60" font-size="22.00" textLength="48.94" lengthAdjust="spacingAndGlyphs">1985</text><text x="1583.57" y="1207.60" font-size="22.00" textLength="49.25" lengthAdjust="spacingAndGlyphs">1990</text><text x="1660.18" y="1207.60" font-size="22.00" textLength="48.94" lengthAdjust="spacingAndGlyphs">1995</text><text x="1737.41" y="1207.60" font-size="22.00" textLength="48.60" lengthAdjust="spacingAndGlyphs">2000</text><text x="1814.02" y="1207.60" font-size="22.00" textLength="48.30" lengthAdjust="spacingAndGlyphs">2005</text><text x="1890.61" y="1207.60" font-size="22.00" textLength="48.60" lengthAdjust="spacingAndGlyphs">2010</text><text x="1967.22" y="1207.60" font-size="22.00" textLength="48.30" lengthAdjust="spacingAndGlyphs">2015</text></g>
<text x="1601.84" y="884.50" font-size="21.40" textLength="318.82" lengthAdjust="spacingAndGlyphs">Hot to warm semi-arid (TNn )</text>
<text x="1512.04" y="891.70" font-size="35.10" textLength="33.21" lengthAdjust="spacingAndGlyphs">(f)</text>
<text transform="translate(1427.50 1138.40) rotate(-90)" x="-0.66" y="0" font-size="20.48" textLength="199.99" lengthAdjust="spacingAndGlyphs">Standard anomaly</text>
<text x="1668.50" y="1241.60" font-size="22.00" textLength="188.15" lengthAdjust="spacingAndGlyphs">Year (1983–2016)</text>
</g>
<g id="c_j">
<g fill="#0000ee" stroke="#000022" stroke-width="1.3"><rect x="109.6" y="1446.0" width="11.8" height="81.2"/><rect x="123.7" y="1446.0" width="11.8" height="97.0"/><rect x="137.8" y="1446.0" width="11.8" height="114.7"/><rect x="165.9" y="1446.0" width="11.8" height="36.0"/><rect x="180.0" y="1431.4" width="11.8" height="14.6"/><rect x="194.1" y="1446.0" width="11.8" height="18.3"/><rect x="208.2" y="1446.0" width="11.8" height="28.7"/><rect x="222.3" y="1446.0" width="11.8" height="12.2"/><rect x="236.4" y="1324.0" width="11.8" height="122.0"/><rect x="250.5" y="1306.3" width="11.8" height="139.7"/><rect x="264.6" y="1415.5" width="11.8" height="30.5"/><rect x="278.7" y="1431.4" width="11.8" height="14.6"/><rect x="292.8" y="1446.0" width="11.8" height="28.7"/><rect x="306.8" y="1442.3" width="11.8" height="3.7"/><rect x="320.9" y="1446.0" width="11.8" height="28.7"/><rect x="335.0" y="1446.0" width="11.8" height="52.5"/><rect x="349.1" y="1424.0" width="11.8" height="22.0"/><rect x="377.3" y="1446.0" width="11.8" height="11.0"/><rect x="391.4" y="1446.0" width="11.8" height="23.8"/><rect x="405.5" y="1446.0" width="11.8" height="17.7"/><rect x="419.6" y="1395.4" width="11.8" height="50.6"/><rect x="433.7" y="1407.6" width="11.8" height="38.4"/><rect x="461.8" y="1361.8" width="11.8" height="84.2"/><rect x="475.9" y="1407.6" width="11.8" height="38.4"/><rect x="490.0" y="1413.7" width="11.8" height="32.3"/><rect x="504.1" y="1446.0" width="11.8" height="73.2"/><rect x="518.2" y="1389.9" width="11.8" height="56.1"/><rect x="532.3" y="1429.5" width="11.8" height="16.5"/><rect x="546.4" y="1407.6" width="11.8" height="38.4"/><rect x="560.5" y="1429.5" width="11.8" height="16.5"/><rect x="574.6" y="1384.4" width="11.8" height="61.6"/></g>
<g stroke="#000" fill="none"><path d="M102.1 1292.3V1569.1" stroke-width="2.4"/><path d="M96.8 1293.4H102.1" stroke-width="2.2"/><path d="M96.8 1324.0H102.1" stroke-width="2.2"/><path d="M96.8 1354.5H102.1" stroke-width="2.2"/><path d="M96.8 1385.0H102.1" stroke-width="2.2"/><path d="M96.8 1415.5H102.1" stroke-width="2.2"/><path d="M96.8 1446.0H102.1" stroke-width="2.2"/><path d="M96.8 1476.5H102.1" stroke-width="2.2"/><path d="M96.8 1507.0H102.1" stroke-width="2.2"/><path d="M96.8 1537.5H102.1" stroke-width="2.2"/><path d="M96.8 1568.0H102.1" stroke-width="2.2"/><path d="M102.1 1446.0H609.9" stroke-width="2.0"/><path d="M143.7 1446.0V1450.0" stroke-width="1.6"/><path d="M214.1 1446.0V1450.0" stroke-width="1.6"/><path d="M284.6 1446.0V1450.0" stroke-width="1.6"/><path d="M355.0 1446.0V1450.0" stroke-width="1.6"/><path d="M425.5 1446.0V1450.0" stroke-width="1.6"/><path d="M495.9 1446.0V1450.0" stroke-width="1.6"/><path d="M566.4 1446.0V1450.0" stroke-width="1.6"/></g>
<path d="M117.5 1490.9L579.5 1400.4" stroke="#d62020" stroke-width="1.8" fill="none"/>
<g><text x="67.59" y="1300.77" font-size="21.00" textLength="27.16" lengthAdjust="spacingAndGlyphs">2.5</text><text x="67.84" y="1331.28" font-size="21.00" textLength="27.16" lengthAdjust="spacingAndGlyphs">2.0</text><text x="67.59" y="1361.80" font-size="21.00" textLength="27.16" lengthAdjust="spacingAndGlyphs">1.5</text><text x="67.84" y="1392.31" font-size="21.00" textLength="27.16" lengthAdjust="spacingAndGlyphs">1.0</text><text x="67.59" y="1422.82" font-size="21.00" textLength="27.16" lengthAdjust="spacingAndGlyphs">0.5</text><text x="67.84" y="1453.33" font-size="21.00" textLength="27.16" lengthAdjust="spacingAndGlyphs">0.0</text><text x="61.08" y="1483.84" font-size="21.00" textLength="33.66" lengthAdjust="spacingAndGlyphs">-0.5</text><text x="61.34" y="1514.35" font-size="21.00" textLength="33.66" lengthAdjust="spacingAndGlyphs">-1.0</text><text x="61.08" y="1544.86" font-size="21.00" textLength="33.66" lengthAdjust="spacingAndGlyphs">-1.5</text><text x="61.34" y="1575.37" font-size="21.00" textLength="33.66" lengthAdjust="spacingAndGlyphs">-2.0</text></g>
<g><text x="119.95" y="1584.70" font-size="21.00" textLength="46.72" lengthAdjust="spacingAndGlyphs">1985</text><text x="190.39" y="1584.70" font-size="21.00" textLength="47.01" lengthAdjust="spacingAndGlyphs">1990</text><text x="260.85" y="1584.70" font-size="21.00" textLength="46.72" lengthAdjust="spacingAndGlyphs">1995</text><text x="331.90" y="1584.70" font-size="21.00" textLength="46.39" lengthAdjust="spacingAndGlyphs">2000</text><text x="402.36" y="1584.70" font-size="21.00" textLength="46.10" lengthAdjust="spacingAndGlyphs">2005</text><text x="472.80" y="1584.70" font-size="21.00" textLength="46.39" lengthAdjust="spacingAndGlyphs">2010</text><text x="543.26" y="1584.70" font-size="21.00" textLength="46.10" lengthAdjust="spacingAndGlyphs">2015</text></g>
<text x="237.47" y="1282.80" font-size="20.60" textLength="234.89" lengthAdjust="spacingAndGlyphs">Hot to warm arid (TNx )</text>
<text x="109.95" y="1322.10" font-size="35.00" textLength="31.19" lengthAdjust="spacingAndGlyphs">(j)</text>
<text transform="translate(51.50 1515.60) rotate(-90)" x="-0.61" y="0" font-size="21.61" textLength="184.43" lengthAdjust="spacingAndGlyphs">Standard anomaly</text>
<text x="269.44" y="1615.30" font-size="21.00" textLength="171.92" lengthAdjust="spacingAndGlyphs">Year (1983–2016)</text>
</g>
<g id="c_k">
<g fill="#0000ee" stroke="#000022" stroke-width="1.3"><rect x="777.6" y="1325.5" width="12.6" height="116.9"/><rect x="792.6" y="1334.0" width="12.6" height="108.4"/><rect x="807.5" y="1404.1" width="12.6" height="38.3"/><rect x="822.5" y="1420.3" width="12.6" height="22.1"/><rect x="837.5" y="1309.9" width="12.6" height="132.5"/><rect x="852.4" y="1293.1" width="12.6" height="149.3"/><rect x="867.4" y="1396.9" width="12.6" height="45.5"/><rect x="882.3" y="1442.4" width="12.6" height="14.9"/><rect x="897.3" y="1419.4" width="12.6" height="23.0"/><rect x="912.3" y="1427.5" width="12.6" height="14.9"/><rect x="927.2" y="1442.4" width="12.6" height="14.9"/><rect x="942.2" y="1427.5" width="12.6" height="14.9"/><rect x="957.1" y="1419.4" width="12.6" height="23.0"/><rect x="972.1" y="1442.4" width="12.6" height="7.8"/><rect x="987.1" y="1419.4" width="12.6" height="23.0"/><rect x="1002.0" y="1370.3" width="12.6" height="72.1"/><rect x="1017.0" y="1427.5" width="12.6" height="14.9"/><rect x="1031.9" y="1419.4" width="12.6" height="23.0"/><rect x="1046.9" y="1424.7" width="12.6" height="17.7"/><rect x="1061.9" y="1442.4" width="12.6" height="43.5"/><rect x="1076.8" y="1406.6" width="12.6" height="35.8"/><rect x="1091.8" y="1442.4" width="12.6" height="18.8"/><rect x="1106.7" y="1442.4" width="12.6" height="43.5"/><rect x="1121.7" y="1442.4" width="12.6" height="33.5"/><rect x="1136.7" y="1442.4" width="12.6" height="50.0"/><rect x="1151.6" y="1442.4" width="12.6" height="83.4"/><rect x="1166.6" y="1442.4" width="12.6" height="74.0"/><rect x="1181.5" y="1442.4" width="12.6" height="97.4"/><rect x="1196.5" y="1442.4" width="12.6" height="83.4"/><rect x="1211.5" y="1442.4" width="12.6" height="43.5"/><rect x="1226.4" y="1442.4" width="12.6" height="73.4"/><rect x="1241.4" y="1442.4" width="12.6" height="45.5"/><rect x="1256.3" y="1442.4" width="12.6" height="45.5"/><rect x="1271.3" y="1442.4" width="12.6" height="100.6"/></g>
<g stroke="#000" fill="none"><path d="M768.4 1279.0V1573.4" stroke-width="2.4"/><path d="M763.2 1280.1H768.4" stroke-width="2.2"/><path d="M763.2 1312.5H768.4" stroke-width="2.2"/><path d="M763.2 1345.0H768.4" stroke-width="2.2"/><path d="M763.2 1377.5H768.4" stroke-width="2.2"/><path d="M763.2 1409.9H768.4" stroke-width="2.2"/><path d="M763.2 1442.4H768.4" stroke-width="2.2"/><path d="M763.2 1474.9H768.4" stroke-width="2.2"/><path d="M763.2 1507.3H768.4" stroke-width="2.2"/><path d="M763.2 1539.8H768.4" stroke-width="2.2"/><path d="M763.2 1572.3H768.4" stroke-width="2.2"/><path d="M768.4 1442.4H1308.5" stroke-width="2.0"/><path d="M813.8 1442.4V1446.7" stroke-width="1.6"/><path d="M888.6 1442.4V1446.7" stroke-width="1.6"/><path d="M963.4 1442.4V1446.7" stroke-width="1.6"/><path d="M1038.2 1442.4V1446.7" stroke-width="1.6"/><path d="M1113.0 1442.4V1446.7" stroke-width="1.6"/><path d="M1187.8 1442.4V1446.7" stroke-width="1.6"/><path d="M1262.6 1442.4V1446.7" stroke-width="1.6"/></g>
<path d="M783.8 1353.3L1277.4 1531.5" stroke="#d62020" stroke-width="1.8" fill="none"/>
<g><text x="733.35" y="1287.64" font-size="21.70" textLength="27.50" lengthAdjust="spacingAndGlyphs">2.5</text><text x="733.61" y="1320.11" font-size="21.70" textLength="27.50" lengthAdjust="spacingAndGlyphs">2.0</text><text x="733.35" y="1352.57" font-size="21.70" textLength="27.50" lengthAdjust="spacingAndGlyphs">1.5</text><text x="733.61" y="1385.04" font-size="21.70" textLength="27.50" lengthAdjust="spacingAndGlyphs">1.0</text><text x="733.35" y="1417.51" font-size="21.70" textLength="27.50" lengthAdjust="spacingAndGlyphs">0.5</text><text x="733.61" y="1449.97" font-size="21.70" textLength="27.50" lengthAdjust="spacingAndGlyphs">0.0</text><text x="726.77" y="1482.44" font-size="21.70" textLength="34.08" lengthAdjust="spacingAndGlyphs">-0.5</text><text x="727.03" y="1514.91" font-size="21.70" textLength="34.08" lengthAdjust="spacingAndGlyphs">-1.0</text><text x="726.77" y="1547.37" font-size="21.70" textLength="34.08" lengthAdjust="spacingAndGlyphs">-1.5</text><text x="727.03" y="1579.84" font-size="21.70" textLength="34.08" lengthAdjust="spacingAndGlyphs">-2.0</text></g>
<g><text x="789.30" y="1590.30" font-size="21.70" textLength="48.27" lengthAdjust="spacingAndGlyphs">1985</text><text x="864.09" y="1590.30" font-size="21.70" textLength="48.57" lengthAdjust="spacingAndGlyphs">1990</text><text x="938.90" y="1590.30" font-size="21.70" textLength="48.27" lengthAdjust="spacingAndGlyphs">1995</text><text x="1014.32" y="1590.30" font-size="21.70" textLength="47.93" lengthAdjust="spacingAndGlyphs">2000</text><text x="1089.13" y="1590.30" font-size="21.70" textLength="47.64" lengthAdjust="spacingAndGlyphs">2005</text><text x="1163.92" y="1590.30" font-size="21.70" textLength="47.93" lengthAdjust="spacingAndGlyphs">2010</text><text x="1238.73" y="1590.30" font-size="21.70" textLength="47.64" lengthAdjust="spacingAndGlyphs">2015</text></g>
<text x="877.55" y="1269.00" font-size="21.90" textLength="324.37" lengthAdjust="spacingAndGlyphs">Tepid to cool Sub moist (TNx )</text>
<text x="795.60" y="1293.50" font-size="35.50" textLength="44.09" lengthAdjust="spacingAndGlyphs">(k)</text>
<text transform="translate(714.50 1516.50) rotate(-90)" x="-0.65" y="0" font-size="21.89" textLength="195.17" lengthAdjust="spacingAndGlyphs">Standard anomaly</text>
<text x="946.71" y="1622.50" font-size="21.50" textLength="182.91" lengthAdjust="spacingAndGlyphs">Year (1983–2016)</text>
</g>
<g id="c_l">
<g fill="#0000ee" stroke="#000022" stroke-width="1.3"><rect x="1513.1" y="1411.4" width="12.7" height="28.4"/><rect x="1528.3" y="1422.0" width="12.7" height="17.8"/><rect x="1543.4" y="1439.8" width="12.7" height="69.3"/><rect x="1558.6" y="1439.8" width="12.7" height="69.3"/><rect x="1573.7" y="1379.7" width="12.7" height="60.1"/><rect x="1588.9" y="1346.7" width="12.7" height="93.1"/><rect x="1604.0" y="1390.3" width="12.7" height="49.5"/><rect x="1619.2" y="1433.9" width="12.7" height="5.9"/><rect x="1634.3" y="1280.1" width="12.7" height="159.7"/><rect x="1649.5" y="1439.8" width="12.7" height="3.3"/><rect x="1664.6" y="1439.8" width="12.7" height="37.0"/><rect x="1679.8" y="1325.6" width="12.7" height="114.2"/><rect x="1694.9" y="1390.3" width="12.7" height="49.5"/><rect x="1710.1" y="1422.0" width="12.7" height="17.8"/><rect x="1725.2" y="1439.8" width="12.7" height="3.3"/><rect x="1740.4" y="1439.8" width="12.7" height="55.4"/><rect x="1755.5" y="1341.5" width="12.7" height="98.3"/><rect x="1770.7" y="1439.8" width="12.7" height="102.3"/><rect x="1785.8" y="1422.0" width="12.7" height="17.8"/><rect x="1801.0" y="1439.8" width="12.7" height="58.7"/><rect x="1816.1" y="1368.5" width="12.7" height="71.3"/><rect x="1831.3" y="1439.8" width="12.7" height="3.3"/><rect x="1846.4" y="1439.8" width="12.7" height="3.3"/><rect x="1861.6" y="1379.7" width="12.7" height="60.1"/><rect x="1876.7" y="1439.8" width="12.7" height="69.3"/><rect x="1891.9" y="1439.8" width="12.7" height="80.5"/><rect x="1907.0" y="1439.8" width="12.7" height="69.3"/><rect x="1922.2" y="1439.8" width="12.7" height="58.7"/><rect x="1937.3" y="1439.8" width="12.7" height="58.7"/><rect x="1952.5" y="1439.8" width="12.7" height="15.8"/><rect x="1967.6" y="1439.8" width="12.7" height="3.3"/><rect x="1982.8" y="1433.9" width="12.7" height="5.9"/><rect x="1997.9" y="1439.8" width="12.7" height="112.9"/><rect x="2013.1" y="1400.9" width="12.7" height="38.9"/></g>
<g stroke="#000" fill="none"><path d="M1503.5 1273.7V1572.9" stroke-width="2.4"/><path d="M1499.3 1274.8H1503.5" stroke-width="2.2"/><path d="M1499.3 1307.8H1503.5" stroke-width="2.2"/><path d="M1499.3 1340.8H1503.5" stroke-width="2.2"/><path d="M1499.3 1373.8H1503.5" stroke-width="2.2"/><path d="M1499.3 1406.8H1503.5" stroke-width="2.2"/><path d="M1499.3 1439.8H1503.5" stroke-width="2.2"/><path d="M1499.3 1472.8H1503.5" stroke-width="2.2"/><path d="M1499.3 1505.8H1503.5" stroke-width="2.2"/><path d="M1499.3 1538.8H1503.5" stroke-width="2.2"/><path d="M1499.3 1571.8H1503.5" stroke-width="2.2"/><path d="M1503.5 1439.8H2051.6" stroke-width="2.0"/><path d="M1549.8 1439.8V1445.3" stroke-width="1.6"/><path d="M1625.5 1439.8V1445.3" stroke-width="1.6"/><path d="M1701.3 1439.8V1445.3" stroke-width="1.6"/><path d="M1777.0 1439.8V1445.3" stroke-width="1.6"/><path d="M1852.8 1439.8V1445.3" stroke-width="1.6"/><path d="M1928.5 1439.8V1445.3" stroke-width="1.6"/><path d="M2004.3 1439.8V1445.3" stroke-width="1.6"/></g>
<path d="M1520.1 1402.7L2020.6 1475.6" stroke="#d62020" stroke-width="1.8" fill="none"/>
<g><text x="1466.86" y="1282.48" font-size="22.00" textLength="28.51" lengthAdjust="spacingAndGlyphs">2.5</text><text x="1467.13" y="1315.48" font-size="22.00" textLength="28.51" lengthAdjust="spacingAndGlyphs">2.0</text><text x="1466.86" y="1348.48" font-size="22.00" textLength="28.51" lengthAdjust="spacingAndGlyphs">1.5</text><text x="1467.13" y="1381.48" font-size="22.00" textLength="28.51" lengthAdjust="spacingAndGlyphs">1.0</text><text x="1466.86" y="1414.48" font-size="22.00" textLength="28.51" lengthAdjust="spacingAndGlyphs">0.5</text><text x="1467.13" y="1447.48" font-size="22.00" textLength="28.51" lengthAdjust="spacingAndGlyphs">0.0</text><text x="1460.03" y="1480.48" font-size="22.00" textLength="35.34" lengthAdjust="spacingAndGlyphs">-0.5</text><text x="1460.30" y="1513.48" font-size="22.00" textLength="35.34" lengthAdjust="spacingAndGlyphs">-1.0</text><text x="1460.03" y="1546.48" font-size="22.00" textLength="35.34" lengthAdjust="spacingAndGlyphs">-1.5</text><text x="1460.30" y="1579.48" font-size="22.00" textLength="35.34" lengthAdjust="spacingAndGlyphs">-2.0</text></g>
<g><text x="1524.94" y="1589.80" font-size="22.00" textLength="48.94" lengthAdjust="spacingAndGlyphs">1985</text><text x="1600.68" y="1589.80" font-size="22.00" textLength="49.25" lengthAdjust="spacingAndGlyphs">1990</text><text x="1676.44" y="1589.80" font-size="22.00" textLength="48.94" lengthAdjust="spacingAndGlyphs">1995</text><text x="1752.82" y="1589.80" font-size="22.00" textLength="48.60" lengthAdjust="spacingAndGlyphs">2000</text><text x="1828.58" y="1589.80" font-size="22.00" textLength="48.30" lengthAdjust="spacingAndGlyphs">2005</text><text x="1904.32" y="1589.80" font-size="22.00" textLength="48.60" lengthAdjust="spacingAndGlyphs">2010</text><text x="1980.08" y="1589.80" font-size="22.00" textLength="48.30" lengthAdjust="spacingAndGlyphs">2015</text></g>
<text x="1620.16" y="1263.30" font-size="20.80" textLength="313.89" lengthAdjust="spacingAndGlyphs">Hot to warm semi-arid (TNx )</text>
<text x="1544.55" y="1320.80" font-size="35.40" textLength="31.19" lengthAdjust="spacingAndGlyphs">(l)</text>
<text transform="translate(1448.70 1513.00) rotate(-90)" x="-0.65" y="0" font-size="22.03" textLength="196.27" lengthAdjust="spacingAndGlyphs">Standard anomaly</text>
<text x="1684.91" y="1622.50" font-size="21.50" textLength="185.23" lengthAdjust="spacingAndGlyphs">Year (1983–2016)</text>
</g>
</svg>
</body></html>
